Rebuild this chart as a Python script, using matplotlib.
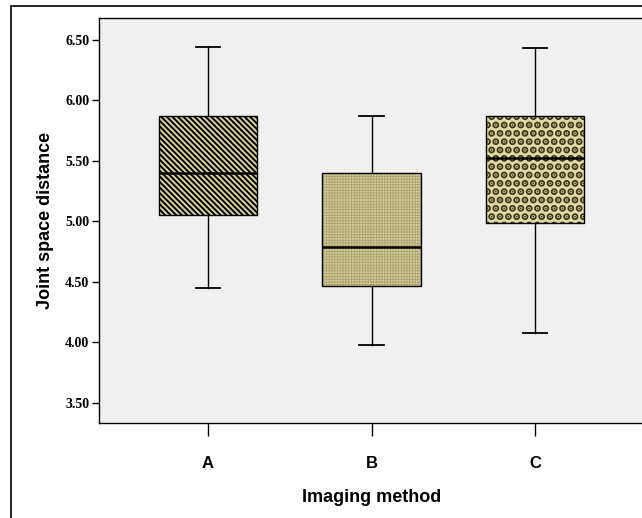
import matplotlib
matplotlib.use('Agg')
import matplotlib.pyplot as plt
from matplotlib.patches import PathPatch, Rectangle

# box statistics
methods = ['A', 'B', 'C']
whis_low = [4.45, 3.98, 4.08]
q1 = [5.05, 4.47, 4.99]
medians = [5.40, 4.79, 5.52]
q3 = [5.87, 5.40, 5.87]
whis_high = [6.44, 5.87, 6.43]
y_ticks = [3.5, 4.0, 4.5, 5.0, 5.5, 6.0, 6.5]

face_colors = ['#d8d4a2', '#d2cc94', '#dedaa8']
hatches = ['\\' * 6, '++++++', '..']
hatch_colors = ['black', '#aaa472', '#3a3814']
hatch_widths = [1.4, 0.6, 3.6]

fig = plt.figure(figsize=(6.42, 5.18), dpi=100)
ax = fig.add_axes([99 / 642, 95 / 518, 545 / 642, 405 / 518])
ax.set_facecolor('#f0f0f0')

stats = []
for m, lo, a, md, b, hi in zip(methods, whis_low, q1, medians, q3, whis_high):
    stats.append(dict(label=m, whislo=lo, q1=a, med=md, q3=b, whishi=hi))

bp = ax.bxp(stats, positions=[1, 2, 3], widths=0.6, capwidths=0.15,
            patch_artist=True, showfliers=False,
            medianprops=dict(color='black', linewidth=1.8, zorder=3),
            whiskerprops=dict(color='black', linewidth=1),
            capprops=dict(color='black', linewidth=1.3))

for box, fc, h, hc, hw in zip(bp['boxes'], face_colors, hatches, hatch_colors, hatch_widths):
    box.set_facecolor(fc)
    box.set_edgecolor(hc)
    box.set_linewidth(0)
    box.set_hatch(h)
    if hasattr(box, 'set_hatch_linewidth'):
        box.set_hatch_linewidth(hw)
    # outline on top of the hatch
    ax.add_patch(PathPatch(box.get_path(), facecolor='none', edgecolor='black',
                           linewidth=1, zorder=2.5))

ax.set_xlim(1 / 3, 11 / 3)
ax.set_ylim(3.335, 6.68)
ax.set_yticks(y_ticks)
ax.set_yticklabels([f'{v:.2f}' for v in y_ticks],
                   fontfamily='Liberation Serif', fontweight='bold', fontsize=10)
ax.set_xticks([1, 2, 3])
ax.set_xticklabels(methods, fontfamily='Liberation Sans', fontweight='bold', fontsize=12)
ax.tick_params(axis='y', direction='out', length=5, width=1, pad=2)
ax.tick_params(axis='x', direction='out', length=9, width=1, pad=15)
for s in ax.spines.values():
    s.set_linewidth(1)

ax.set_ylabel('Joint space distance', fontfamily='Liberation Sans', fontweight='bold',
              fontsize=13, labelpad=8)
ax.set_xlabel('Imaging method', fontfamily='Liberation Sans', fontweight='bold',
              fontsize=13, labelpad=13)

# outer frame of the exported chart
fig.add_artist(Rectangle((11 / 642, -0.5), 2, 1.5 - 6 / 518, transform=fig.transFigure,
                         fill=False, edgecolor='black', linewidth=1.2, clip_on=False))

fig.savefig('out.png', dpi=100)
